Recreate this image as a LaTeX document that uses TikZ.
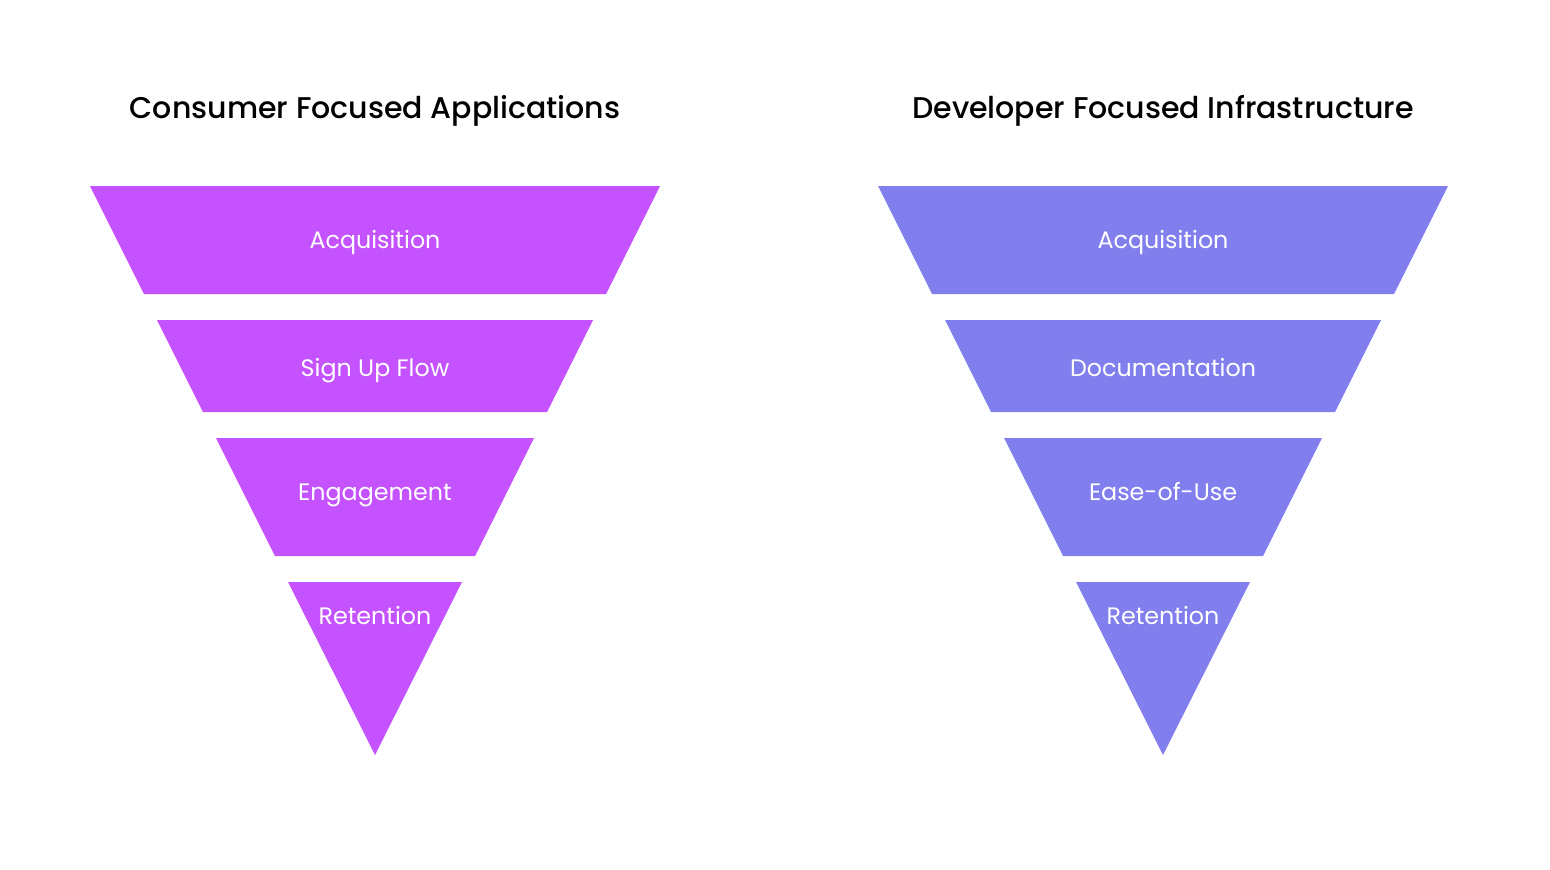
\documentclass[tikz,border=0pt]{standalone}
\usepackage{fontspec}
\setmainfont{Poppins}
\newfontfamily\titlefont{Poppins Medium}
\definecolor{funpurple}{HTML}{C452FF}
\definecolor{funblue}{HTML}{817EEE}
\tikzset{
  lbl/.style={text=white, font=\fontsize{23.8}{28}\selectfont, inner sep=0pt, anchor=base},
  ttl/.style={text=black, font=\titlefont\fontsize{30}{35}\selectfont, inner sep=0pt, anchor=base},
}
\newcommand{\funnel}[2]{% center x, color
  \fill[#2] (#1-285,186) -- (#1+285,186) -- (#1+231,294) -- (#1-231,294) -- cycle;
  \fill[#2] (#1-218,320) -- (#1+218,320) -- (#1+172,412) -- (#1-172,412) -- cycle;
  \fill[#2] (#1-159,438) -- (#1+159,438) -- (#1+100,556) -- (#1-100,556) -- cycle;
  \fill[#2] (#1-87,582) -- (#1+87,582) -- (#1,755) -- cycle;
}
\begin{document}
\begin{tikzpicture}[x=1pt,y=-1pt]
\useasboundingbox (0,0) rectangle (1550,870);
\funnel{375}{funpurple}
\funnel{1163}{funblue}
\node[ttl] (t1) at (375,118) {Consumer Focused Applications};
\node[ttl] (t2) at (1163,118) {Developer Focused Infrastructure};
\node[lbl] (a1) at (375,248) {Acquisition};
\node[lbl] (a2) at (375,376) {Sign Up Flow};
\node[lbl] (a3) at (375,500) {Engagement};
\node[lbl] (a4) at (375,624) {Retention};
\node[lbl] (b1) at (1163,248) {Acquisition};
\node[lbl] (b2) at (1163,376) {Documentation};
\node[lbl] (b3) at (1163,500) {Ease-of-Use};
\node[lbl] (b4) at (1163,624) {Retention};
\end{tikzpicture}
\end{document}
